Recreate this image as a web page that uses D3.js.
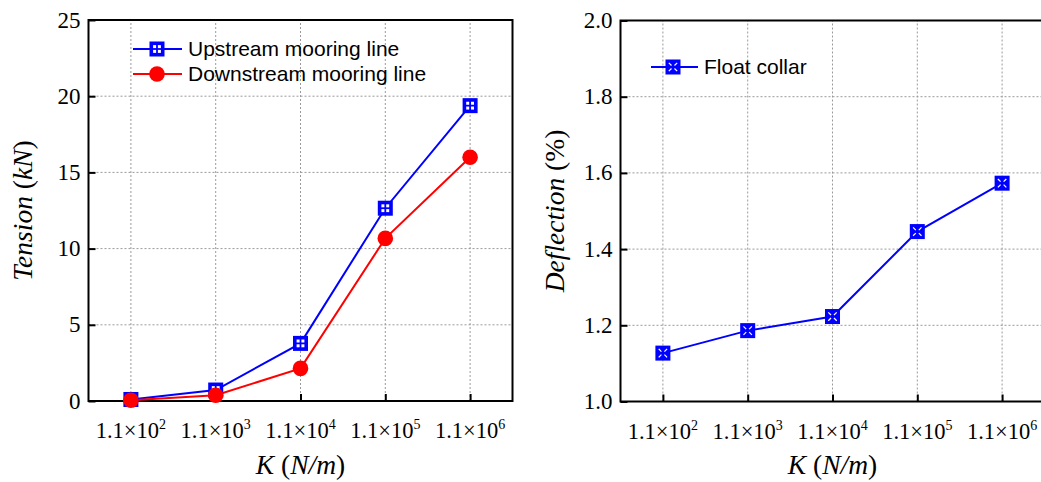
<!DOCTYPE html>
<html><head><meta charset="utf-8">
<script src="https://cdn.jsdelivr.net/npm/d3@7"></script>
<style>body{margin:0;background:#fff;} svg{display:block;}</style>
</head><body>
<svg id="chart" width="1041" height="482"></svg>
<script>
// ---- data ----
const categories = ["1.1e2", "1.1e3", "1.1e4", "1.1e5", "1.1e6"];
const exponents = ["2", "3", "4", "5", "6"];
const upstream = [0.1, 0.72, 3.78, 12.65, 19.38];
const downstream = [0.05, 0.38, 2.14, 10.67, 15.99];
const floatCollar = [1.127, 1.186, 1.223, 1.446, 1.573];
const tensionTicks = [0, 5, 10, 15, 20, 25];
const deflectionTicks = [1.0, 1.2, 1.4, 1.6, 1.8, 2.0];

const svg = d3.select("#chart");
const serif = "'Liberation Serif','Times New Roman',serif";
const sans = "'Liberation Sans',Arial,sans-serif";

function panel(opts) {
  const g = svg.append("g");
  const x = d3.scalePoint().domain(categories).range(opts.xr).padding(0.5);
  const y = d3.scaleLinear().domain(opts.yd).range(opts.yr);
  const [x0, x1] = opts.xr, [yb, yt] = opts.yr;

  // grid
  g.append("g").selectAll("line").data(categories).join("line")
    .attr("x1", d => x(d)).attr("x2", d => x(d)).attr("y1", yb).attr("y2", yt)
    .attr("stroke", "#9a9a9a").attr("stroke-width", 1).attr("stroke-dasharray", "2,2");
  g.append("g").selectAll("line").data(opts.ticks.slice(1, -1)).join("line")
    .attr("x1", x0).attr("x2", x1).attr("y1", d => y(d)).attr("y2", d => y(d))
    .attr("stroke", "#9a9a9a").attr("stroke-width", 1).attr("stroke-dasharray", "2,2");

  // axes (ticks inward)
  const ax = g.append("g").attr("transform", `translate(0,${yb})`)
    .call(d3.axisBottom(x).tickSizeInner(-7).tickSizeOuter(0).tickFormat(""));
  ax.select(".domain").remove();
  ax.selectAll(".tick line").attr("stroke", "#000").attr("stroke-width", 2);
  const ay = g.append("g").attr("transform", `translate(${x0},0)`)
    .call(d3.axisLeft(y).tickValues(opts.ticks).tickSizeInner(-7).tickSizeOuter(0).tickFormat(""));
  ay.select(".domain").remove();
  ay.selectAll(".tick line").attr("stroke", "#000").attr("stroke-width", 2);

  // frame
  g.append("rect").attr("x", x0).attr("y", yt).attr("width", x1 - x0).attr("height", yb - yt)
    .attr("fill", "none").attr("stroke", "#000").attr("stroke-width", 2);

  // y tick labels
  g.append("g").selectAll("text").data(opts.ticks).join("text")
    .attr("x", x0 - 8).attr("y", d => y(d)).attr("dy", "0.33em")
    .attr("text-anchor", "end").attr("font-family", serif).attr("font-size", 23)
    .attr("fill", "#000").text(opts.fmt);

  // x tick labels
  const xl = g.append("g").selectAll("text").data(categories).join("text")
    .attr("x", d => x(d)).attr("y", yb + 37)
    .attr("text-anchor", "middle").attr("font-family", serif).attr("font-size", 22.5).attr("fill", "#000");
  xl.append("tspan").text("1.1×10");
  xl.append("tspan").attr("dy", -9).attr("font-size", 14).text((d, i) => exponents[i]);

  // x title
  const xt = g.append("text").attr("x", (x(categories[0]) + x(categories[4])) / 2).attr("y", 474)
    .attr("text-anchor", "middle").attr("font-family", serif).attr("font-size", 27.5).attr("fill", "#000");
  xt.append("tspan").attr("font-style", "italic").text("K");
  xt.append("tspan").text(" (");
  xt.append("tspan").attr("font-style", "italic").text("N/m");
  xt.append("tspan").text(")");

  // y title
  const yt2 = g.append("text").attr("transform", `translate(${opts.ytx},${(yb + yt) / 2}) rotate(-90)`)
    .attr("text-anchor", "middle").attr("font-family", serif).attr("font-size", 27.5).attr("fill", "#000");
  opts.yTitle.forEach(p => yt2.append("tspan").attr("font-style", p[1] ? "italic" : "normal").text(p[0]));

  return {g, x, y};
}

function squareCross(sel, cx, cy) { // blue square with 2x2 white sub-squares
  const s = 15;
  sel.append("rect").attr("x", cx - s / 2).attr("y", cy - s / 2).attr("width", s).attr("height", s).attr("fill", "#0000ff");
  [[-1, -1], [1, -1], [-1, 1], [1, 1]].forEach(([a, b]) => {
    sel.append("rect").attr("x", cx + a * 2.4 - 1.5).attr("y", cy + b * 2.4 - 1.5)
      .attr("width", 3).attr("height", 3).attr("fill", "#fff");
  });
}
function squareX(sel, cx, cy) { // blue square with small white X marks
  const s = 15;
  sel.append("rect").attr("x", cx - s / 2).attr("y", cy - s / 2).attr("width", s).attr("height", s).attr("fill", "#0000ff");
  [[-1, -1], [1, -1], [-1, 1], [1, 1]].forEach(([a, b]) => {
    sel.append("line").attr("x1", cx + a * 1.5).attr("y1", cy + b * 1.5)
      .attr("x2", cx + a * 4.2).attr("y2", cy + b * 4.2).attr("stroke", "#fff").attr("stroke-width", 1.2);
  });
}
function circle(sel, cx, cy) {
  sel.append("circle").attr("cx", cx).attr("cy", cy).attr("r", 7.8).attr("fill", "#ff0000");
}

// ---- left panel ----
const L = panel({xr: [88.5, 512.5], yr: [401, 20], yd: [0, 25], ticks: tensionTicks,
  fmt: d => d3.format("d")(d), ytx: 32,
  yTitle: [["Tension", true], [" (", false], ["kN", true], [")", false]]});
const lineGen = (s) => d3.line().x((d, i) => s.x(categories[i])).y(d => s.y(d));
L.g.append("path").datum(upstream).attr("d", lineGen(L)).attr("fill", "none").attr("stroke", "#0000ff").attr("stroke-width", 2);
L.g.append("path").datum(downstream).attr("d", lineGen(L)).attr("fill", "none").attr("stroke", "#ff0000").attr("stroke-width", 2);
const um = L.g.append("g");
upstream.forEach((v, i) => squareCross(um, L.x(categories[i]), L.y(v)));
const dm = L.g.append("g");
downstream.forEach((v, i) => circle(dm, L.x(categories[i]), L.y(v)));

// legend left
const lg = L.g.append("g");
lg.append("line").attr("x1", 133).attr("x2", 182).attr("y1", 49).attr("y2", 49).attr("stroke", "#0000ff").attr("stroke-width", 2);
squareCross(lg, 157, 49);
lg.append("text").attr("x", 188).attr("y", 49).attr("dy", "0.35em").attr("font-family", sans).attr("font-size", 21).attr("fill", "#000").text("Upstream mooring line");
lg.append("line").attr("x1", 133).attr("x2", 182).attr("y1", 74).attr("y2", 74).attr("stroke", "#ff0000").attr("stroke-width", 2);
circle(lg, 157, 74);
lg.append("text").attr("x", 188).attr("y", 74).attr("dy", "0.35em").attr("font-family", sans).attr("font-size", 21).attr("fill", "#000").text("Downstream mooring line");

// ---- right panel ----
const R = panel({xr: [620.5, 1044.5], yr: [401.5, 20.5], yd: [1.0, 2.0], ticks: deflectionTicks,
  fmt: d => d3.format(".1f")(d), ytx: 564,
  yTitle: [["Deflection", true], [" (%)", false]]});
R.g.append("path").datum(floatCollar).attr("d", lineGen(R)).attr("fill", "none").attr("stroke", "#0000ff").attr("stroke-width", 2);
const fm = R.g.append("g");
floatCollar.forEach((v, i) => squareX(fm, R.x(categories[i]), R.y(v)));

const rg = R.g.append("g");
rg.append("line").attr("x1", 651).attr("x2", 698).attr("y1", 67).attr("y2", 67).attr("stroke", "#0000ff").attr("stroke-width", 2);
squareX(rg, 673, 67);
rg.append("text").attr("x", 704).attr("y", 67).attr("dy", "0.35em").attr("font-family", sans).attr("font-size", 21).attr("fill", "#000").text("Float collar");
</script>
</body></html>
